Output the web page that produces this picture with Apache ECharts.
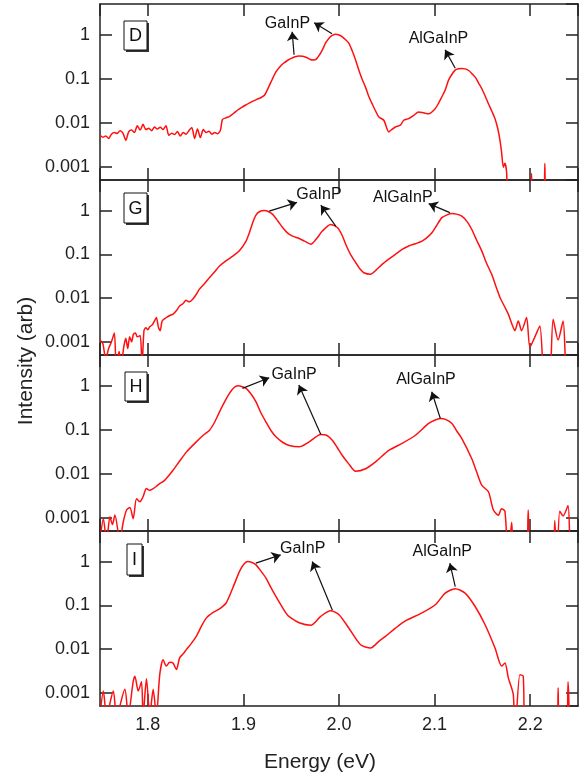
<!DOCTYPE html>
<html>
<head>
<meta charset="utf-8">
<script src="https://cdn.jsdelivr.net/npm/echarts@6/dist/echarts.min.js"></script>
<style>html,body{margin:0;padding:0;background:#fff;}#c{width:587px;height:778px;}</style>
</head>
<body>
<div id="c"></div>
<script>
// ---------- DATA ----------
const xTicks = [1.8, 1.9, 2.0, 2.1, 2.2];
const yTicks = [0.001, 0.01, 0.1, 1];
const panelNames = ['D', 'G', 'H', 'I'];

const energyD = [1.750,1.753,1.756,1.759,1.762,1.765,1.768,1.771,1.774,1.777,1.780,1.783,1.786,1.789,1.792,1.795,1.798,1.801,1.804,1.807,1.810,1.813,1.816,1.819,1.822,1.825,1.828,1.831,1.834,1.837,1.840,1.843,1.846,1.849,1.852,1.855,1.858,1.861,1.864,1.867,1.870,1.873,1.876,1.878,1.882,1.886,1.890,1.894,1.898,1.902,1.906,1.910,1.914,1.918,1.922,1.926,1.930,1.934,1.938,1.942,1.946,1.950,1.954,1.958,1.962,1.966,1.970,1.973,1.976,1.980,1.983,1.986,1.990,1.993,1.9965,2.000,2.0035,2.007,2.0104,2.014,2.0175,2.0208,2.024,2.028,2.0313,2.035,2.038,2.0417,2.0469,2.0521,2.055,2.059,2.0642,2.0677,2.0729,2.0781,2.0833,2.0885,2.0938,2.1007,2.1042,2.1076,2.111,2.1146,2.118,2.1215,2.125,2.1285,2.132,2.136,2.1389,2.143,2.146,2.1493,2.153,2.1563,2.160,2.1632,2.166,2.1684,2.170,2.1719,2.1735,2.1753,2.1771,2.200,2.2014,2.203,2.214,2.2153,2.217,2.250];
const intensityD = [0.0052,0.0047,0.0050,0.0044,0.0055,0.0060,0.0057,0.0066,0.0058,0.0040,0.0062,0.0068,0.0060,0.0085,0.0068,0.0092,0.0070,0.0075,0.0066,0.0080,0.0072,0.0079,0.0070,0.0086,0.0052,0.0058,0.0054,0.0063,0.0050,0.0060,0.0055,0.0066,0.0078,0.0044,0.0072,0.0046,0.0070,0.0060,0.0064,0.0055,0.0060,0.0056,0.0068,0.0118,0.0130,0.0142,0.0165,0.0195,0.0222,0.0250,0.0280,0.0310,0.0340,0.0370,0.0420,0.0620,0.0950,0.1430,0.1850,0.2250,0.2600,0.2900,0.3150,0.3300,0.3250,0.3050,0.2750,0.2680,0.2750,0.3600,0.4700,0.6500,0.8600,0.9700,1.0300,0.9900,0.9000,0.7700,0.6400,0.4200,0.2600,0.1570,0.1000,0.0620,0.0390,0.0260,0.0190,0.0135,0.0114,0.0062,0.0070,0.0080,0.0088,0.0114,0.0124,0.0147,0.0176,0.0168,0.0160,0.0210,0.0280,0.0390,0.0550,0.0930,0.1250,0.1570,0.1680,0.1710,0.1680,0.1520,0.1320,0.1050,0.0800,0.0600,0.0400,0.0270,0.0180,0.0124,0.0075,0.0040,0.0022,0.00098,0.0012,0.00076,0.0001,0.0001,0.0007,0.0001,0.0001,0.0012,0.0001,0.0001];

const energyG = [1.750,1.753,1.756,1.759,1.762,1.765,1.767,1.770,1.772,1.775,1.777,1.779,1.781,1.783,1.785,1.787,1.789,1.792,1.794,1.796,1.798,1.800,1.802,1.805,1.807,1.809,1.811,1.813,1.815,1.8195,1.823,1.8264,1.830,1.8333,1.837,1.840,1.8435,1.8472,1.851,1.854,1.859,1.8646,1.870,1.875,1.882,1.8889,1.8958,1.9028,1.906,1.9097,1.913,1.9167,1.9219,1.926,1.9306,1.936,1.941,1.946,1.9514,1.9583,1.964,1.9705,1.976,1.9826,1.9913,1.9983,2.003,2.007,2.012,2.0174,2.022,2.026,2.033,2.039,2.0451,2.052,2.059,2.066,2.0729,2.080,2.0868,2.092,2.0972,2.102,2.1076,2.113,2.1181,2.123,2.1285,2.134,2.1389,2.144,2.1493,2.154,2.1597,2.164,2.1684,2.173,2.1771,2.181,2.184,2.1875,2.191,2.1962,2.1997,2.2049,2.2101,2.2153,2.220,2.224,2.2292,2.2344,2.2396,2.250];
const intensityG = [0.0011,0.0009,0.0004,0.0007,0.0010,0.0016,0.0003,0.0006,0.0003,0.0008,0.0012,0.0007,0.0013,0.0010,0.0015,0.0016,0.0013,0.0014,0.0003,0.0018,0.0021,0.0019,0.0022,0.0025,0.0030,0.0036,0.0022,0.0018,0.0030,0.0036,0.0040,0.0043,0.0052,0.0066,0.0075,0.0089,0.0082,0.0095,0.0125,0.0160,0.0210,0.0295,0.0400,0.0540,0.0720,0.0910,0.1200,0.2000,0.3000,0.5300,0.7800,0.9400,1.0000,0.9500,0.8200,0.5800,0.4100,0.3100,0.2600,0.2300,0.2000,0.1700,0.2200,0.3400,0.4800,0.4100,0.2800,0.1700,0.1000,0.0650,0.0460,0.0380,0.0350,0.0440,0.0590,0.0780,0.1000,0.1300,0.1550,0.1750,0.2000,0.2400,0.3100,0.4500,0.6900,0.8000,0.8600,0.8300,0.7500,0.5600,0.3700,0.2100,0.1200,0.0650,0.0350,0.0190,0.0103,0.0065,0.0043,0.0025,0.0018,0.0030,0.0018,0.0036,0.00075,0.0013,0.0023,0.0001,0.0001,0.0033,0.0011,0.0030,0.0001,0.0001];

const energyH = [1.750,1.7535,1.7569,1.7604,1.763,1.7656,1.7708,1.7743,1.7778,1.7813,1.7847,1.7882,1.7917,1.795,1.7986,1.802,1.8056,1.809,1.8125,1.816,1.8194,1.8264,1.833,1.8403,1.8507,1.858,1.8646,1.870,1.875,1.880,1.8854,1.890,1.8941,1.899,1.9028,1.908,1.9132,1.918,1.9236,1.929,1.934,1.941,1.9479,1.9583,1.9687,1.9809,1.987,1.993,1.998,2.0035,2.010,2.0174,2.0278,2.0382,2.0521,2.066,2.0799,2.0938,2.100,2.106,2.112,2.1181,2.123,2.1285,2.1389,2.144,2.1493,2.1563,2.1615,2.1667,2.170,2.1736,2.1771,2.1806,2.184,2.196,2.1979,2.2014,2.224,2.2257,2.228,2.2309,2.2344,2.2396,2.2431,2.250];
const intensityH = [0.0003,0.00095,0.0003,0.00105,0.0007,0.00115,0.0003,0.0008,0.0015,0.0017,0.00095,0.0027,0.0023,0.0030,0.0046,0.0042,0.0046,0.0052,0.0060,0.0066,0.0078,0.0120,0.0190,0.0310,0.0530,0.0750,0.0980,0.1500,0.2550,0.4200,0.6700,0.9000,1.0000,0.9500,0.8700,0.6500,0.4300,0.2500,0.1500,0.0950,0.0690,0.0520,0.0440,0.0410,0.0530,0.0780,0.0750,0.0580,0.0400,0.0260,0.0170,0.0114,0.0130,0.0186,0.0340,0.0490,0.0750,0.1390,0.1650,0.1800,0.1700,0.1390,0.0950,0.0630,0.0220,0.0110,0.0055,0.0039,0.0015,0.00114,0.0016,0.0014,0.0001,0.00079,0.0001,0.0001,0.0015,0.0001,0.0001,0.00087,0.0001,0.0014,0.0011,0.0019,0.0001,0.0001];

const energyI = [1.750,1.7535,1.7569,1.7639,1.7674,1.776,1.7795,1.7847,1.7865,1.790,1.7934,1.7951,1.7986,1.8021,1.8056,1.809,1.8125,1.816,1.8194,1.823,1.8264,1.8299,1.8333,1.837,1.8403,1.845,1.8507,1.856,1.8611,1.868,1.875,1.8819,1.8889,1.8958,1.900,1.9045,1.909,1.9132,1.918,1.9236,1.929,1.934,1.9444,1.9479,1.9583,1.9705,1.9809,1.9913,2.000,2.0104,2.0226,2.033,2.0417,2.0486,2.059,2.0694,2.0868,2.1007,2.1111,2.1215,2.1319,2.1424,2.1528,2.1632,2.1701,2.1736,2.1771,2.1823,2.184,2.1892,2.1927,2.1951,2.228,2.2292,2.2309,2.238,2.2396,2.2431,2.250];
const intensityI = [0.0003,0.0011,0.0003,0.0011,0.0003,0.0012,0.0003,0.0018,0.0024,0.0011,0.0018,0.0003,0.0021,0.0003,0.0012,0.0003,0.0026,0.0057,0.0041,0.0050,0.0048,0.0034,0.0063,0.0078,0.0097,0.0130,0.0195,0.0330,0.0510,0.0680,0.0830,0.1130,0.2500,0.5900,0.8500,1.0000,0.9500,0.8400,0.6200,0.4200,0.2500,0.1600,0.0670,0.0550,0.0400,0.0350,0.0560,0.0750,0.0610,0.0300,0.0126,0.0106,0.0150,0.0195,0.0300,0.0440,0.0670,0.1030,0.1900,0.2400,0.1900,0.0940,0.0360,0.0106,0.0041,0.0048,0.0022,0.00092,0.0001,0.0026,0.0024,0.0001,0.0001,0.0013,0.0001,0.0001,0.0018,0.0001,0.0001];

// annotations: arrow [from point on curve] -> [to label], in data units (energy, intensity)
const arrowsD = [[[1.953,0.35],[1.951,1.17]], [[1.9927,1.05],[1.974,1.88]], [[2.1216,0.173],[2.111,0.454]]];
const labelsD = [[1.946,1.78,'GaInP'], [2.104,0.81,'AlGaInP']];
const arrowsG = [[[1.927,0.97],[1.956,1.54]], [[1.9966,0.44],[1.981,1.33]], [[2.116,0.90],[2.0938,1.44]]];
const labelsG = [[1.979,2.34,'GaInP'], [2.0667,2.0,'AlGaInP']];
const arrowsH = [[[1.899,0.87],[1.927,1.52]], [[1.981,0.078],[1.958,1.04]], [[2.106,0.18],[2.097,0.73]]];
const labelsH = [[1.953,1.75,'GaInP'], [2.091,1.35,'AlGaInP']];
const arrowsI = [[[1.913,0.92],[1.939,1.42]], [[1.993,0.078],[1.972,1.0]], [[2.1216,0.267],[2.116,0.92]]];
const labelsI = [[1.962,2.03,'GaInP'], [2.108,1.69,'AlGaInP']];

// ---------- LAYOUT ----------
const FONT = '"Liberation Sans", Arial, sans-serif';
const AX = '#222';
const tops = [4, 180, 355, 531];
const heights = [176, 175, 176, 175];
const GL = 100, GR = 9;
const boxes = [[124,21,23,29],[124,193,23,30],[125,372,22,29],[127,544,15,31]];

const panels = [
  {e: energyD, v: intensityD, arrows: arrowsD, labels: labelsD},
  {e: energyG, v: intensityG, arrows: arrowsG, labels: labelsG},
  {e: energyH, v: intensityH, arrows: arrowsH, labels: labelsH},
  {e: energyI, v: intensityI, arrows: arrowsI, labels: labelsI}
];

function xFmt(v){ const r = Math.round(v*10)/10; return (Math.abs(v-r) < 1e-6 && xTicks.some(t=>Math.abs(t-r)<1e-6)) ? r.toFixed(1) : ''; }
function yFmt(v){ const l = Math.log10(v); const r = Math.round(l); if (Math.abs(l-r) > 1e-6) return ''; const p = Math.pow(10, r); return yTicks.some(t=>Math.abs(t-p)<1e-9) ? String(p) : ''; }

const grid = [], xAxis = [], yAxis = [], series = [], graphic = [];
const lineStyle = {color: AX, width: 1.5};
panels.forEach((p, i) => {
  grid.push({left: GL, right: GR, top: tops[i], height: heights[i], show: false});
  ['bottom','top'].forEach(pos => xAxis.push({
    gridIndex: i, type: 'value', min: 1.75, max: 2.25, position: pos,
    axisLine: {show: true, onZero: false, lineStyle},
    axisTick: {show: true, inside: true, length: 12, lineStyle},
    splitLine: {show: false},
    axisLabel: {show: pos === 'bottom' && i === 3, formatter: xFmt, margin: 10, fontSize: 18, color: AX, fontFamily: FONT, showMinLabel: false, showMaxLabel: false}
  }));
  ['left','right'].forEach(pos => yAxis.push({
    gridIndex: i, type: 'log', logBase: 10, min: 0.0005, max: 5, position: pos,
    axisLine: {show: true, onZero: false, lineStyle},
    axisTick: {show: true, inside: true, length: 12, lineStyle},
    splitLine: {show: false}, minorTick: {show: false},
    axisLabel: {show: pos === 'left', formatter: yFmt, margin: 10, fontSize: 18, color: AX, fontFamily: FONT, showMinLabel: false, showMaxLabel: false}
  }));
  series.push({
    type: 'line', xAxisIndex: 2*i, yAxisIndex: 2*i,
    data: p.e.map((x, k) => [x, p.v[k]]),
    showSymbol: false, symbol: 'none', clip: true, smooth: 0.25,
    lineStyle: {color: '#ff1010', width: 1.5},
    z: 3,
    markLine: {
      silent: true, animation: false, precision: 6,
      lineStyle: {color: '#111', width: 1.2, type: 'solid'},
      label: {show: false},
      symbolSize: 9,
      data: p.arrows.map(a => [
        {coord: a[0], symbol: 'none'},
        {coord: a[1], symbol: 'arrow'}
      ])
    },
    markPoint: {
      silent: true, animation: false,
      symbol: 'circle', symbolSize: 0,
      label: {show: true, position: 'inside', color: '#111', fontSize: 16, fontFamily: FONT, formatter: d => d.name},
      data: p.labels.map(l => ({name: l[2], coord: [l[0], l[1]], value: l[2]}))
    }
  });
  const b = boxes[i];
  graphic.push({type: 'rect', shape: {x: b[0]+2, y: b[1]+2, width: b[2], height: b[3]}, style: {fill: '#333'}, z: 100});
  graphic.push({type: 'rect', shape: {x: b[0], y: b[1], width: b[2], height: b[3]}, style: {fill: '#fff', stroke: '#111', lineWidth: 1}, z: 101});
  graphic.push({type: 'text', x: b[0] + b[2]/2, y: b[1] + b[3]/2 + 1, style: {text: panelNames[i], font: '18px ' + FONT, fill: '#111', align: 'center', verticalAlign: 'middle'}, z: 102});
});
graphic.push({type: 'text', x: 320, y: 762, style: {text: 'Energy (eV)', font: '21px ' + FONT, fill: AX, align: 'center', verticalAlign: 'middle'}});
graphic.push({type: 'text', x: 26, y: 361, rotation: Math.PI/2, style: {text: 'Intensity (arb)', font: '21px ' + FONT, fill: AX, align: 'center', verticalAlign: 'middle'}});

const chart = echarts.init(document.getElementById('c'), null, {renderer: 'canvas'});
chart.setOption({animation: false, backgroundColor: '#fff', grid, xAxis, yAxis, series, graphic});
</script>
</body>
</html>
